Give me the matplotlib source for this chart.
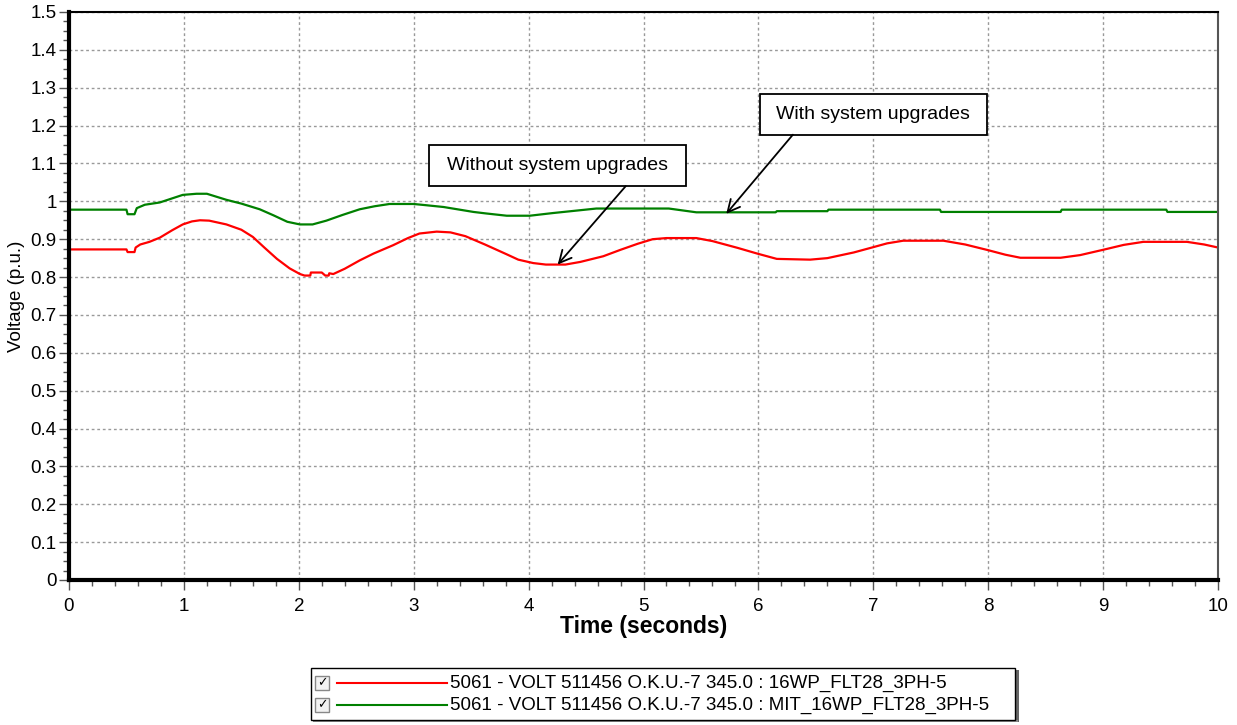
import matplotlib
matplotlib.use("Agg")
import matplotlib.pyplot as plt
from matplotlib.patches import Rectangle
from matplotlib.lines import Line2D
from matplotlib.ticker import MultipleLocator

plt.rcParams['font.family'] = ['Liberation Sans', 'DejaVu Sans']

# red: without upgrades
t_red = [0, 0.50, 0.51, 0.57, 0.58, 0.62, 0.70, 0.79, 0.90, 0.99, 1.07, 1.14, 1.22, 1.37, 1.50,
         1.60, 1.70, 1.81, 1.92, 2.01, 2.05, 2.10, 2.105, 2.20, 2.23, 2.26, 2.265, 2.30, 2.40,
         2.53, 2.65, 2.82, 2.95, 3.05, 3.20, 3.32, 3.45, 3.62, 3.81, 3.91, 4.04, 4.15, 4.32,
         4.45, 4.65, 4.80, 4.95, 5.08, 5.20, 5.46, 5.60, 5.82, 5.99, 6.16, 6.45, 6.60, 6.83,
         7.00, 7.12, 7.26, 7.61, 7.80, 8.00, 8.15, 8.28, 8.63, 8.80, 9.00, 9.18, 9.35, 9.73,
         9.88, 10.0]
v_red = [0.873, 0.873, 0.866, 0.866, 0.878, 0.886, 0.893, 0.904, 0.924, 0.939, 0.947, 0.950, 0.949, 0.939, 0.925,
         0.906, 0.878, 0.848, 0.823, 0.808, 0.804, 0.804, 0.812, 0.812, 0.804, 0.804, 0.810, 0.808, 0.822,
         0.844, 0.862, 0.884, 0.903, 0.915, 0.920, 0.918, 0.908, 0.886, 0.860, 0.846, 0.837, 0.833, 0.833,
         0.840, 0.855, 0.872, 0.888, 0.900, 0.903, 0.903, 0.895, 0.877, 0.862, 0.848, 0.846, 0.850, 0.865,
         0.879, 0.889, 0.896, 0.896, 0.886, 0.871, 0.859, 0.851, 0.851, 0.858, 0.872, 0.885, 0.893, 0.893,
         0.886, 0.878]

# green: with upgrades
t_green = [0, 0.50, 0.51, 0.57, 0.59, 0.66, 0.79, 0.90, 0.99, 1.11, 1.20, 1.37, 1.50, 1.66, 1.78,
           1.90, 2.01, 2.12, 2.24, 2.38, 2.53, 2.66, 2.79, 3.00, 3.10, 3.26, 3.40, 3.52, 3.63,
           3.81, 4.01, 4.21, 4.40, 4.59, 5.22, 5.46, 6.15, 6.16, 6.60, 6.61, 7.58, 7.59, 8.63,
           8.64, 9.55, 9.56, 10.0]
v_green = [0.978, 0.978, 0.966, 0.966, 0.982, 0.991, 0.997, 1.008, 1.017, 1.020, 1.020, 1.004, 0.994, 0.979, 0.963,
           0.946, 0.939, 0.939, 0.949, 0.964, 0.979, 0.987, 0.993, 0.993, 0.990, 0.985, 0.978, 0.972, 0.968,
           0.962, 0.962, 0.969, 0.975, 0.981, 0.981, 0.971, 0.971, 0.974, 0.974, 0.978, 0.978, 0.972, 0.972,
           0.978, 0.978, 0.972, 0.972]

x_ticks = list(range(0, 11))
y_ticks = [i / 10 for i in range(0, 16)]
y_labels = ['0', '0.1', '0.2', '0.3', '0.4', '0.5', '0.6', '0.7', '0.8', '0.9',
            '1', '1.1', '1.2', '1.3', '1.4', '1.5']
legend_labels = ['5061 - VOLT 511456 O.K.U.-7 345.0 : 16WP_FLT28_3PH-5',
                 '5061 - VOLT 511456 O.K.U.-7 345.0 : MIT_16WP_FLT28_3PH-5']
red = '#ff0000'
green = '#008000'

fig = plt.figure(figsize=(12.37, 7.25), dpi=100)
ax = fig.add_axes([69 / 1237, 145 / 725, (1218 - 69) / 1237, (580 - 12) / 725])

ax.plot(t_red, v_red, color=red, lw=1.6)
ax.plot(t_green, v_green, color=green, lw=1.6)

ax.set_xlim(0, 10)
ax.set_ylim(0, 1.5)
ax.set_xticks(x_ticks)
ax.set_yticks(y_ticks)
ax.set_yticklabels(y_labels)
ax.xaxis.set_minor_locator(MultipleLocator(0.2))
ax.yaxis.set_minor_locator(MultipleLocator(0.025))
ax.tick_params(which='major', direction='out', length=7, width=1, labelsize=13.5, color='#555555')
ax.tick_params(which='minor', direction='out', length=4, width=1, color='#555555')
ax.tick_params(axis='x', pad=6)
ax.tick_params(axis='y', pad=2)
ax.grid(True, which='major', linestyle=(0, (2, 2)), color='#999999', lw=1)

ax.spines['left'].set_linewidth(3)
ax.spines['bottom'].set_linewidth(3)
ax.spines['top'].set_linewidth(1.5)
ax.spines['right'].set_linewidth(1.5)
ax.spines['right'].set_color('#555555')

ax.set_xlabel('Time (seconds)', fontsize=16.5, fontweight='bold', labelpad=0)
ax.set_ylabel('Voltage (p.u.)', fontsize=13.5, labelpad=4)

# callouts: boxes in data units, arrows from box edge to curve
boxes = [(3.13, 1.040, 5.37, 1.149, 'Without system upgrades'),
         (6.01, 1.176, 7.99, 1.283, 'With system upgrades')]
arrows = [((4.845, 1.040), (4.253, 0.833)),
          ((6.30, 1.176), (5.72, 0.967))]
for (x0, y0, x1, y1, txt) in boxes:
    ax.add_patch(Rectangle((x0, y0), x1 - x0, y1 - y0, fc='white', ec='black', lw=1.3, zorder=5))
    ax.text((x0 + x1) / 2, (y0 + y1) / 2, txt, ha='center', va='center', fontsize=14, zorder=6)
for tail, head in arrows:
    ax.annotate('', xy=head, xytext=tail,
                arrowprops=dict(arrowstyle='->', color='black', lw=1.3, mutation_scale=22,
                                shrinkA=0, shrinkB=0), zorder=6)

# legend drawn in figure pixels
def fx(px):
    return px / 1237

def fy(py):
    return 1 - py / 725

fig.patches.append(Rectangle((fx(1015), fy(722)), fx(4), 52 / 725, transform=fig.transFigure,
                             fc='#666666', ec='none'))
fig.patches.append(Rectangle((fx(313), fy(722)), fx(705), 2 / 725, transform=fig.transFigure,
                             fc='#888888', ec='none'))
fig.patches.append(Rectangle((fx(311), fy(720)), fx(704), 52 / 725, transform=fig.transFigure,
                             fc='white', ec='black', lw=1))
for i, (lab, col) in enumerate(zip(legend_labels, [red, green])):
    yc = 683 + 22 * i
    fig.patches.append(Rectangle((fx(315), fy(yc + 7)), fx(14), 14 / 725, transform=fig.transFigure,
                                 fc='#f2f2f2', ec='#888888', lw=1))
    fig.text(fx(322), fy(yc), '\u2713', ha='center', va='center', fontsize=9,
             family=['DejaVu Sans'], fontweight='bold')
    fig.lines.append(Line2D([fx(337), fx(447)], [fy(yc), fy(yc)], transform=fig.transFigure,
                            color=col, lw=1.5))
    fig.text(fx(450), fy(yc), lab, ha='left', va='center', fontsize=13.5)

fig.savefig('out.png', dpi=100)
